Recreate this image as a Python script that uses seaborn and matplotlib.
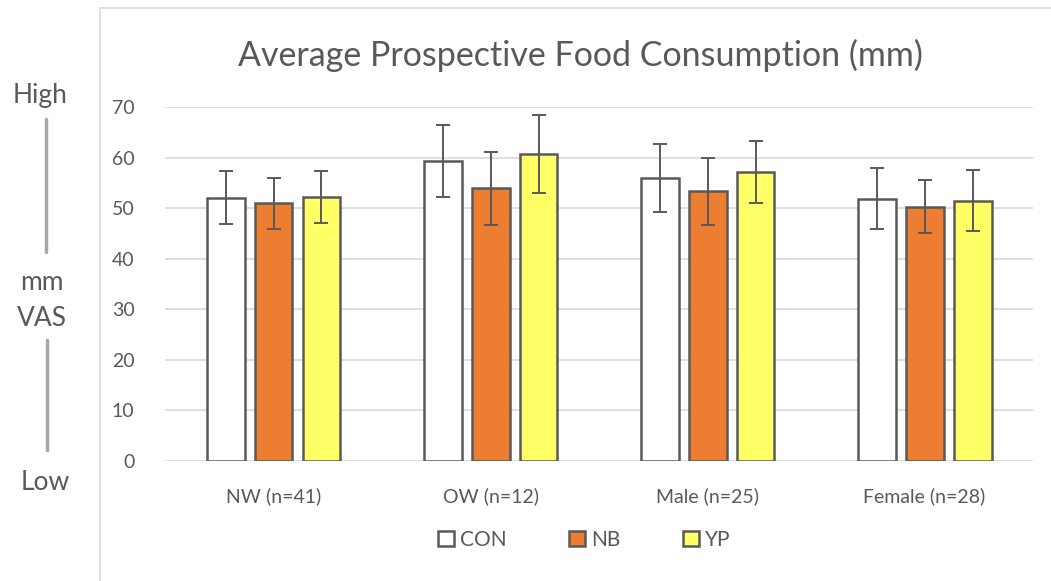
import pandas as pd
import matplotlib.pyplot as plt
import seaborn as sns
from matplotlib.patches import Rectangle
from matplotlib.lines import Line2D

# data
groups = ['NW (n=41)', 'OW (n=12)', 'Male (n=25)', 'Female (n=28)']
conditions = ['CON', 'NB', 'YP']
con_mean = [52.1, 59.4, 55.9, 51.9]
nb_mean = [51.0, 53.9, 53.3, 50.3]
yp_mean = [52.2, 60.7, 57.2, 51.5]
con_err = [5.3, 7.1, 6.7, 5.95]
nb_err = [5.05, 7.15, 6.7, 5.3]
yp_err = [5.1, 7.8, 6.15, 6.05]

colors = {'CON': '#ffffff', 'NB': '#ed7d31', 'YP': '#ffff66'}
grey = '#595959'

rows = []
for cond, means, errs in [('CON', con_mean, con_err), ('NB', nb_mean, nb_err), ('YP', yp_mean, yp_err)]:
    for g, m, e in zip(groups, means, errs):
        rows.append({'group': g, 'cond': cond, 'mean': m, 'err': e})
df = pd.DataFrame(rows)

sns.set_style('white')
plt.rcParams['font.family'] = ['Lato', 'DejaVu Sans']

fig = plt.figure(figsize=(10.51, 5.81), dpi=100)
ax = fig.add_axes([0.157, 0.2065, 0.826, 0.6093])

sns.barplot(data=df, x='group', y='mean', hue='cond', order=groups, hue_order=conditions,
            palette=colors, saturation=1, errorbar=None, width=0.663, gap=0.21,
            edgecolor=grey, linewidth=1.8, ax=ax, legend=False, zorder=3)

# error bars from the bar patches
for cond, container in zip(conditions, ax.containers):
    sub = df[df['cond'] == cond].set_index('group').loc[groups]
    xs = [p.get_x() + p.get_width() / 2 for p in container.patches]
    ax.errorbar(xs, sub['mean'], yerr=sub['err'], fmt='none', ecolor=grey,
                elinewidth=1.4, capsize=5, capthick=1.4, zorder=4)

ax.set_ylim(0, 70)
ax.set_yticks(range(0, 71, 10))
ax.set_xlim(-0.5, 3.5)
ax.yaxis.grid(True, color='#d9d9d9', linewidth=1.2, zorder=0)
ax.set_axisbelow(True)
for s in ax.spines.values():
    s.set_visible(False)
ax.tick_params(axis='both', length=0, labelsize=14, colors=grey)
ax.tick_params(axis='y', pad=22)
ax.tick_params(axis='x', pad=19)
ax.set_xlabel('')
ax.set_ylabel('')

fig.text(0.552, 1 - 55 / 581, 'Average Prospective Food Consumption (mm)',
         ha='center', va='center', fontsize=24.5, color=grey)

# chart area border
fig.patches.append(Rectangle((100 / 1051, -0.1), 1.2, 1 - 8 / 581 + 0.1,
                             transform=fig.transFigure, fill=False,
                             edgecolor='#d9d9d9', linewidth=1.2))

# left side VAS scale
fig.text(40 / 1051, 1 - 95 / 581, 'High', ha='center', va='center', fontsize=19, color=grey)
fig.text(42 / 1051, 1 - 283 / 581, 'mm', ha='center', va='center', fontsize=19, color=grey)
fig.text(42 / 1051, 1 - 318 / 581, 'VAS', ha='center', va='center', fontsize=19, color=grey)
fig.text(45 / 1051, 1 - 482 / 581, 'Low', ha='center', va='center', fontsize=19, color=grey)
fig.add_artist(Line2D([46 / 1051, 46 / 1051], [1 - 119 / 581, 1 - 252 / 581],
                      color='#a6a6a6', linewidth=2.5, transform=fig.transFigure))
fig.add_artist(Line2D([47 / 1051, 47 / 1051], [1 - 340 / 581, 1 - 450 / 581],
                      color='#a6a6a6', linewidth=2.5, transform=fig.transFigure))

handles = [Rectangle((0, 0), 1, 1, facecolor=colors[c], edgecolor=grey, linewidth=1.8) for c in conditions]
leg = fig.legend(handles, conditions, loc='center', bbox_to_anchor=(0.556, 1 - 540 / 581),
                 ncol=3, frameon=False, fontsize=15, handlelength=0.75, handleheight=0.75,
                 handletextpad=0.3, columnspacing=3.0)
for t in leg.get_texts():
    t.set_color(grey)

fig.savefig('out.png', dpi=100)
